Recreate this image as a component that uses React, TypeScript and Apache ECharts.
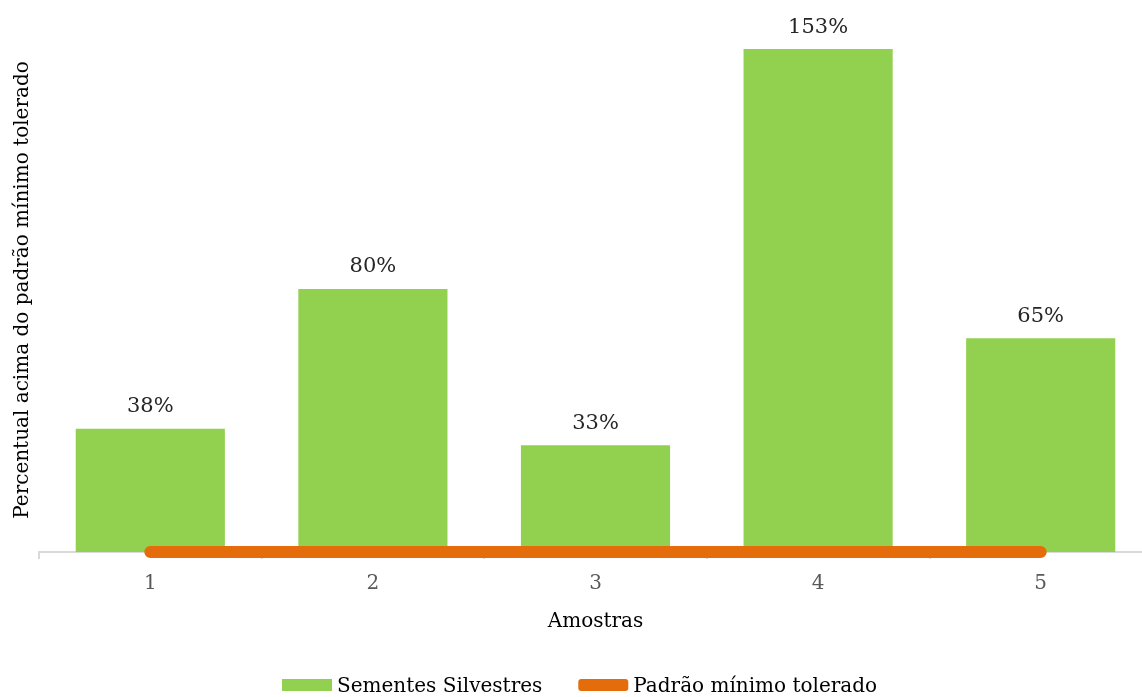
import React, { useEffect, useRef } from "react";
import * as echarts from "echarts";

const categories = ["1", "2", "3", "4", "5"];
const sementes = [37.5, 80, 32.5, 153, 65];
const padrao = [0, 0, 0, 0, 0];
const seriesNames = ["Sementes Silvestres", "Padrão mínimo tolerado"];
const xTitle = "Amostras";
const yTitle = "Percentual acima do padrão mínimo tolerado";

const FONT = "DejaVu Serif";

export default function App() {
  const ref = useRef<HTMLDivElement>(null);
  useEffect(() => {
    if (!ref.current) return;
    const chart = echarts.init(ref.current, null, { renderer: "svg" });
    chart.setOption({
      animation: false,
      textStyle: { fontFamily: FONT },
      grid: {
        left: 39,
        width: 1113,
        top: 49,
        bottom: 145,
        containLabel: false,
        outerBoundsMode: "none",
      },
      graphic: [
        {
          type: "text",
          x: 21,
          y: 290,
          rotation: Math.PI / 2,
          style: {
            text: yTitle,
            fontFamily: FONT,
            fontSize: 20,
            fill: "#000000",
            align: "center",
            verticalAlign: "middle",
          },
        },
      ],
      legend: {
        left: 277,
        top: 670,
        itemGap: 36,
        itemWidth: 50,
        itemHeight: 12,
        textStyle: { fontFamily: FONT, fontSize: 20, color: "#000000" },
        data: [
          { name: seriesNames[0], icon: "rect" },
          { name: seriesNames[1], icon: "roundRect", itemStyle: { color: "#e46c0a" } },
        ],
      },
      xAxis: {
        type: "category",
        data: categories,
        name: xTitle,
        nameLocation: "middle",
        nameGap: 58,
        nameTextStyle: { fontFamily: FONT, fontSize: 20, color: "#000000" },
        axisLine: { lineStyle: { color: "#d9d9d9", width: 2 } },
        axisTick: { show: true, length: 7, lineStyle: { color: "#d9d9d9", width: 2 } },
        axisLabel: { fontFamily: FONT, fontSize: 20, color: "#595959", margin: 20 },
      },
      yAxis: {
        type: "value",
        min: 0,
        max: 153,
        show: false,
        splitLine: { show: false },
      },
      series: [
        {
          name: seriesNames[0],
          type: "bar",
          data: sementes,
          barWidth: "67%",
          itemStyle: { color: "#92d050" },
          label: {
            show: true,
            position: "top",
            distance: 13,
            fontFamily: FONT,
            fontSize: 21,
            color: "#262626",
            formatter: (p: any) => Math.round(p.value) + "%",
          },
        },
        {
          name: seriesNames[1],
          type: "line",
          data: padrao,
          showSymbol: false,
          symbol: "none",
          clip: false,
          lineStyle: { color: "#e46c0a", width: 12, cap: "round" },
          itemStyle: { color: "#e46c0a" },
          z: 3,
        },
      ],
    });
    return () => chart.dispose();
  }, []);
  return (
    <div
      ref={ref}
      style={{ position: "fixed", left: 0, top: 0, width: 1142, height: 697 }}
    />
  );
}
